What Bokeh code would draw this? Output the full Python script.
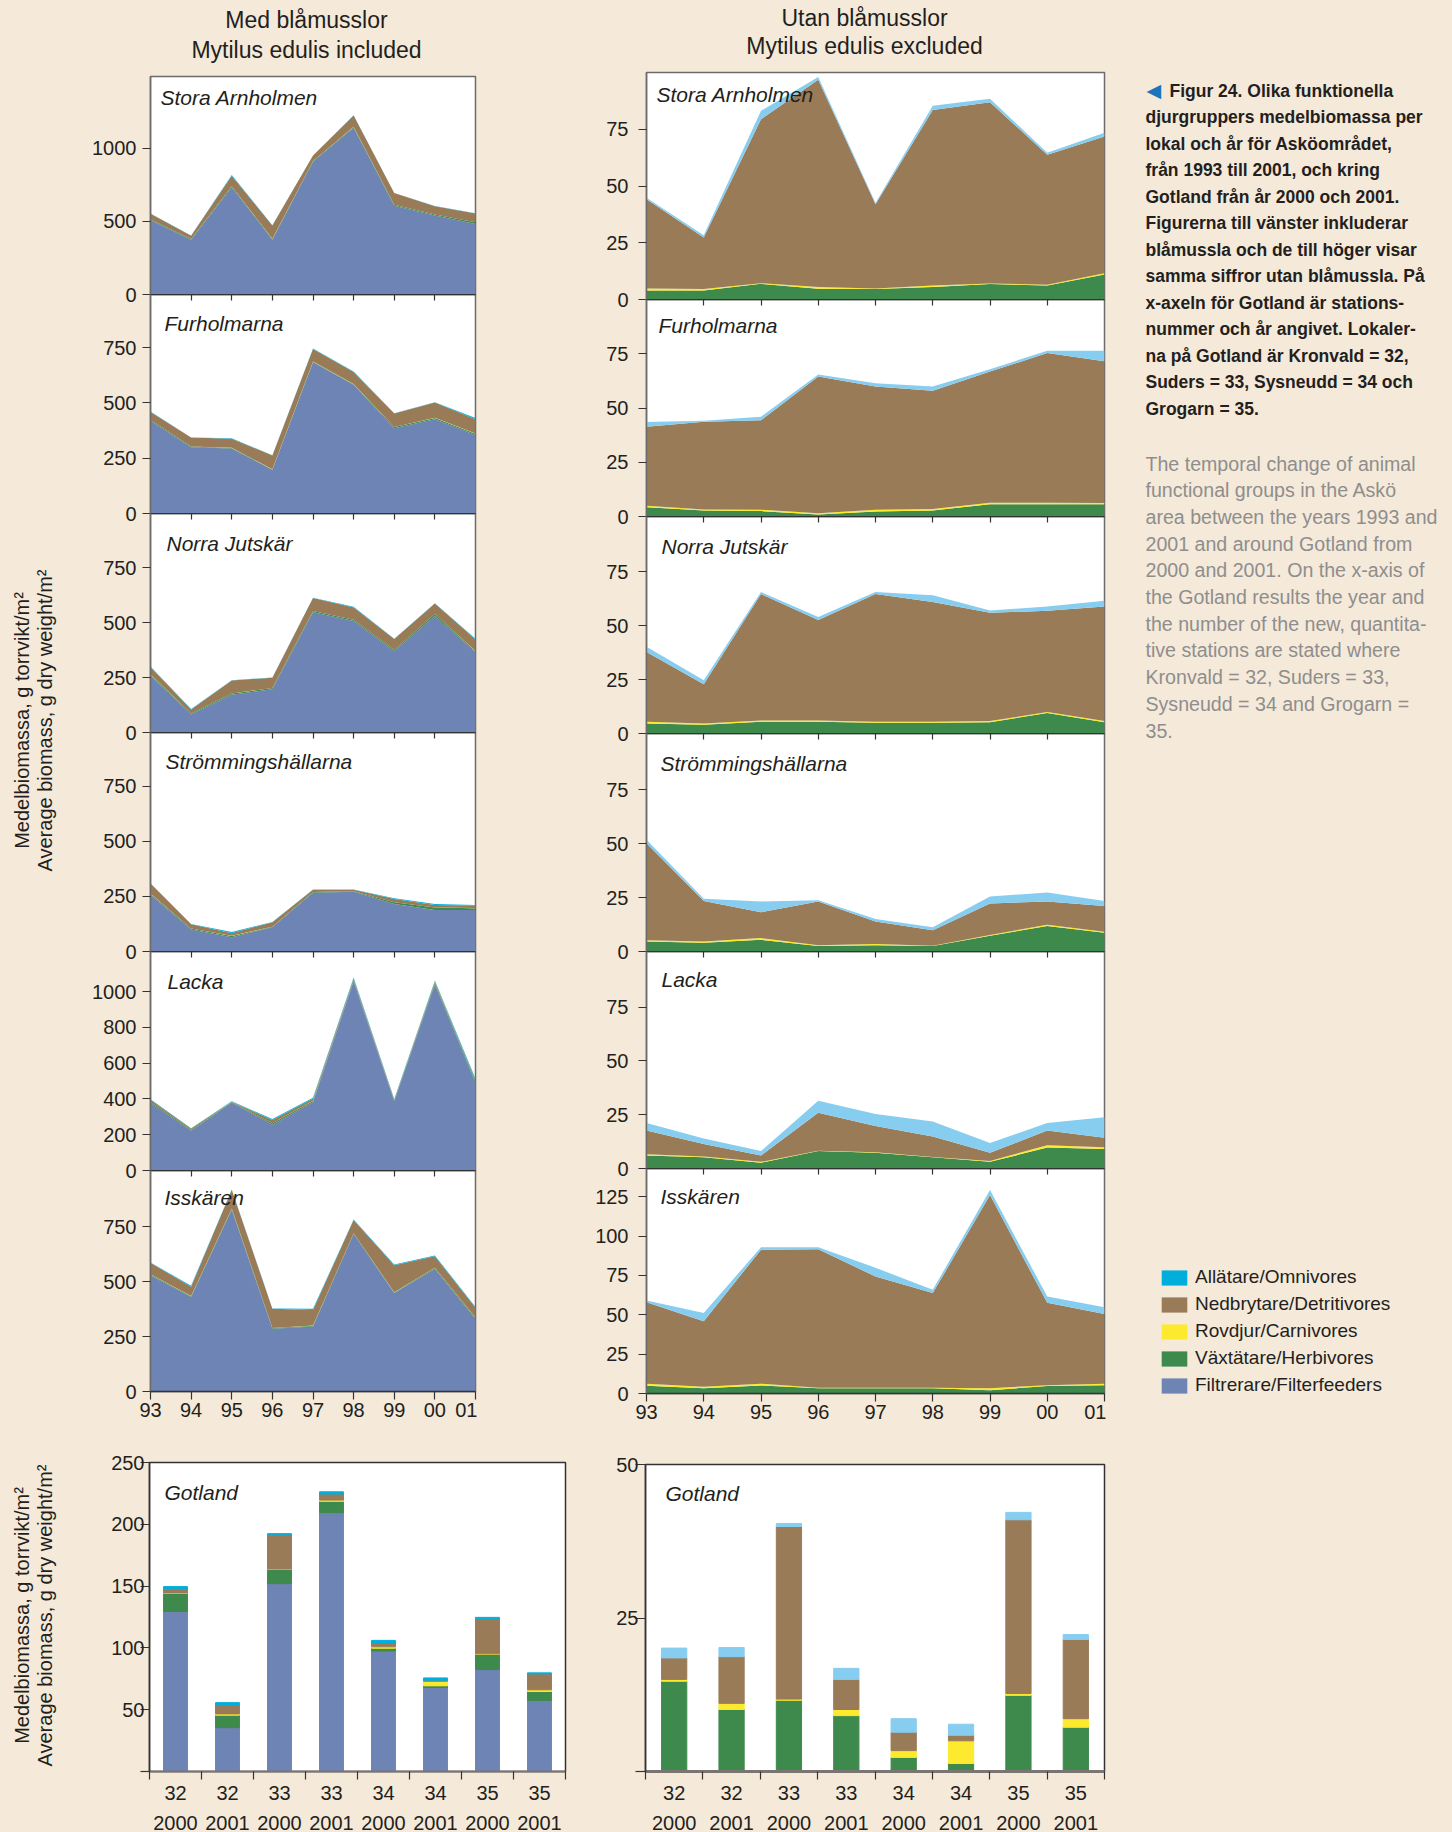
import math
from bokeh.plotting import figure
from bokeh.models import (Range1d, FixedTicker, LinearAxis, Label, Legend,
                          LegendItem, ColumnDataSource)
from bokeh.layouts import row, column
from bokeh.embed import file_html
from bokeh.resources import INLINE

# ----------------------------- data -----------------------------
years = [1993, 1994, 1995, 1996, 1997, 1998, 1999, 2000, 2001]
year_labels = ["93", "94", "95", "96", "97", "98", "99", "00", "01"]

group_keys = ["filt", "herb", "carn", "detr", "omni"]
group_names = {
    "omni": "Allätare/Omnivores",
    "detr": "Nedbrytare/Detritivores",
    "carn": "Rovdjur/Carnivores",
    "herb": "Växtätare/Herbivores",
    "filt": "Filtrerare/Filterfeeders",
}
legend_order = ["omni", "detr", "carn", "herb", "filt"]

stations = ["Stora Arnholmen", "Furholmarna", "Norra Jutskär",
            "Strömmingshällarna", "Lacka", "Isskären"]

stora_filt = [508, 375, 733, 375, 908, 1140, 606, 540, 482]
stora_herb = [4.0, 4.0, 6.9, 4.7, 4.6, 5.5, 6.8, 6.2, 11.0]
stora_carn = [0.8, 0.6, 0.3, 0.8, 0.3, 0.7, 0.3, 0.3, 0.6]
stora_detr = [39.4, 22.7, 72.2, 91.3, 37.1, 77.3, 79.8, 57.3, 60.2]
stora_omni = [0.6, 1.0, 3.7, 1.2, 0.5, 1.8, 1.5, 0.9, 1.7]

furh_filt = [418, 300, 294, 198, 684, 582, 385, 426, 355]
furh_herb = [4.3, 2.8, 2.5, 0.9, 2.3, 2.8, 5.6, 5.6, 5.6]
furh_carn = [0.6, 0.4, 0.6, 0.6, 0.8, 0.7, 0.7, 0.7, 0.6]
furh_detr = [36.5, 40.5, 41.3, 63.0, 56.8, 54.5, 60.5, 69.0, 65.3]
furh_omni = [2.1, 0.4, 1.6, 0.9, 1.5, 1.9, 1.1, 1.1, 4.9]

norra_filt = [260, 82, 172, 197, 548, 508, 370, 530, 365]
norra_herb = [4.6, 4.1, 5.4, 5.4, 5.0, 5.0, 5.2, 9.5, 5.2]
norra_carn = [0.8, 0.5, 0.6, 0.6, 0.4, 0.4, 0.6, 0.4, 0.6]
norra_detr = [32.3, 18.2, 58.6, 46.6, 59.2, 55.5, 50.1, 46.9, 53.0]
norra_omni = [2.5, 1.9, 0.9, 1.3, 0.9, 3.1, 1.1, 2.0, 2.7]

strom_filt = [258, 100, 65, 110, 267, 271, 216, 188, 188]
strom_herb = [4.6, 4.1, 5.4, 2.5, 2.9, 2.5, 7.3, 11.8, 8.7]
strom_carn = [0.6, 0.5, 0.8, 0.4, 0.6, 0.2, 0.4, 0.6, 0.4]
strom_detr = [44.9, 18.8, 12.0, 20.3, 10.4, 7.2, 14.5, 10.8, 12.0]
strom_omni = [1.7, 1.0, 5.0, 0.6, 1.2, 1.3, 3.3, 4.1, 2.3]

lacka_filt = [378, 223, 379, 256, 382, 1058, 388, 1041, 490]
lacka_herb = [6.0, 5.2, 2.7, 8.1, 7.3, 5.2, 3.1, 9.7, 9.1]
lacka_carn = [0.6, 0.4, 0.4, 0.2, 0.2, 0.2, 0.4, 1.1, 0.8]
lacka_detr = [11.0, 5.8, 2.9, 17.6, 12.2, 9.5, 3.8, 6.8, 4.4]
lacka_omni = [3.5, 2.5, 2.1, 5.6, 5.6, 6.9, 4.5, 3.5, 9.5]

iss_filt = [527, 430, 826, 285, 296, 716, 448, 557, 330]
iss_herb = [4.9, 3.4, 5.1, 3.4, 3.4, 3.4, 2.1, 4.7, 5.3]
iss_carn = [1.3, 0.9, 1.1, 0.2, 0.2, 0.2, 1.3, 0.6, 0.9]
iss_detr = [51.8, 41.6, 85.2, 88.0, 70.8, 60.2, 122.7, 52.3, 44.4]
iss_omni = [1.1, 5.3, 1.5, 1.3, 5.5, 2.1, 3.2, 4.0, 4.2]

station_series = {
    "Stora Arnholmen": dict(filt=stora_filt, herb=stora_herb, carn=stora_carn, detr=stora_detr, omni=stora_omni),
    "Furholmarna": dict(filt=furh_filt, herb=furh_herb, carn=furh_carn, detr=furh_detr, omni=furh_omni),
    "Norra Jutskär": dict(filt=norra_filt, herb=norra_herb, carn=norra_carn, detr=norra_detr, omni=norra_omni),
    "Strömmingshällarna": dict(filt=strom_filt, herb=strom_herb, carn=strom_carn, detr=strom_detr, omni=strom_omni),
    "Lacka": dict(filt=lacka_filt, herb=lacka_herb, carn=lacka_carn, detr=lacka_detr, omni=lacka_omni),
    "Isskären": dict(filt=iss_filt, herb=iss_herb, carn=iss_carn, detr=iss_detr, omni=iss_omni),
}

left_ymax = [1490, 990, 997, 995, 1225, 1005]
left_ticks = [[0, 500, 1000], [0, 250, 500, 750], [0, 250, 500, 750],
              [0, 250, 500, 750], [0, 200, 400, 600, 800, 1000], [0, 250, 500, 750]]
right_ymax = [100, 100, 100.5, 101, 100.8, 143]
right_ticks = [[0, 25, 50, 75]] * 5 + [[0, 25, 50, 75, 100, 125]]

got_station = ["32", "32", "33", "33", "34", "34", "35", "35"]
got_year = ["2000", "2001", "2000", "2001", "2000", "2001", "2000", "2001"]
got_filt = [129.5, 35.5, 152.0, 209.5, 97.5, 68.0, 82.5, 57.5]
got_herb = [14.7, 10.1, 11.6, 9.1, 2.3, 1.3, 12.4, 7.2]
got_carn = [0.3, 1.0, 0.2, 1.0, 1.1, 3.7, 0.3, 1.4]
got_detr = [3.5, 7.6, 28.1, 4.9, 3.0, 0.9, 28.3, 12.9]
got_omni = [1.6, 1.5, 0.5, 1.8, 2.2, 1.8, 1.2, 0.8]
got_series = dict(filt=got_filt, herb=got_herb, carn=got_carn, detr=got_detr, omni=got_omni)
left_bar_ticks = [50, 100, 150, 200, 250]
right_bar_ticks = [25, 50]

caption_sv = [
    "Figur 24. Olika funktionella",
    "djurgruppers medelbiomassa per",
    "lokal och år för Asköområdet,",
    "från 1993 till 2001, och kring",
    "Gotland från år 2000 och 2001.",
    "Figurerna till vänster inkluderar",
    "blåmussla och de till höger visar",
    "samma siffror utan blåmussla. På",
    "x-axeln för Gotland är stations-",
    "nummer och år angivet. Lokaler-",
    "na på Gotland är Kronvald = 32,",
    "Suders = 33, Sysneudd = 34 och",
    "Grogarn = 35.",
]
caption_en = [
    "The temporal change of animal",
    "functional groups in the Askö",
    "area between the years 1993 and",
    "2001 and around Gotland from",
    "2000 and 2001. On the x-axis of",
    "the Gotland results the year and",
    "the number of the new, quantita-",
    "tive stations are stated where",
    "Kronvald = 32, Suders = 33,",
    "Sysneudd = 34 and Grogarn =",
    "35.",
]

# ----------------------------- style -----------------------------
BG = "#F5E9D9"
COL = dict(filt="#6E84B5", herb="#3E8A4D", carn="#FDE92D", detr="#9A7B58", omni="#00AEDB")
OMNI_LIGHT = "#86CDF0"
TXT = "#231F20"
GRAY = "#8E8E8E"
FONT = "Liberation Sans"
AX = "#6B6B6B"
DARK = "#333333"
OV = 12


def base_fig(**kw):
    p = figure(tools="", toolbar_location=None, output_backend="svg", **kw)
    p.border_fill_alpha = 0
    p.background_fill_color = "white"
    p.outline_line_color = AX
    p.outline_line_width = 1.5
    p.grid.visible = False
    return p


def text_fig(width, height, left=0, right=0):
    # x data units = pixels from the frame's left edge, y data units = pixels from the top
    p = figure(width=width, height=height, x_range=Range1d(0, width - left - right),
               y_range=Range1d(height, 0),
               tools="", toolbar_location=None, output_backend="svg",
               x_axis_location=None, y_axis_location=None,
               min_border_left=left, min_border_right=right, min_border_top=0, min_border_bottom=0)
    p.outline_line_color = None
    p.background_fill_alpha = 0
    p.border_fill_alpha = 0
    p.grid.visible = False
    return p


def style_yaxis(ax, ticks, tick_out, standoff, minor=None):
    ax.ticker = FixedTicker(ticks=ticks, minor_ticks=minor or [])
    ax.major_tick_out = tick_out
    ax.major_tick_in = 0
    ax.minor_tick_out = tick_out
    ax.minor_tick_in = 0
    ax.minor_tick_line_color = DARK if minor else None
    ax.minor_tick_line_width = 1.2
    ax.major_tick_line_color = DARK
    ax.major_tick_line_width = 1.2
    ax.axis_line_color = AX
    ax.axis_line_width = 1.5
    ax.major_label_text_font = FONT
    ax.major_label_text_font_size = "20px"
    ax.major_label_text_color = TXT
    ax.major_label_standoff = standoff


def area_panel(name, ymax, ticks, width, mbl, mbr, frame_h, top, bottom,
               first, last, with_filt, omni_color, lab_dx, lab_dy, standoff):
    p = base_fig(width=width, height=frame_h + top + bottom,
                 x_range=Range1d(years[0], years[-1]), y_range=Range1d(0, ymax),
                 x_axis_location=None,
                 min_border_left=mbl, min_border_right=mbr,
                 min_border_top=top, min_border_bottom=bottom)
    series = station_series[name]
    keys = group_keys if with_filt else group_keys[1:]
    colors = [omni_color if k == "omni" else COL[k] for k in keys]
    src = ColumnDataSource(dict(year=years, **{k: series[k] for k in keys}))
    p.varea_stack(keys, x="year", color=colors, source=src)

    style_yaxis(p.yaxis[0], ticks, 8, standoff)

    if not first:
        # tick marks hanging from the panel above (no labels)
        top_ax = LinearAxis(ticker=FixedTicker(ticks=[], minor_ticks=years[1:-1]),
                            major_tick_line_color=None,
                            minor_tick_in=6, minor_tick_out=0,
                            minor_tick_line_color=DARK, minor_tick_line_width=1.2,
                            axis_line_color=DARK, axis_line_width=1.5)
        p.add_layout(top_ax, "above")
    if last:
        bot = LinearAxis(ticker=FixedTicker(ticks=years),
                         major_label_overrides=dict(zip(years, year_labels)),
                         major_tick_out=8, major_tick_in=0,
                         major_tick_line_color=DARK, major_tick_line_width=1.2,
                         minor_tick_line_color=None,
                         axis_line_color=DARK, axis_line_width=1.5,
                         major_label_text_font=FONT, major_label_text_font_size="20px",
                         major_label_text_color=TXT, major_label_standoff=3)
        p.add_layout(bot, "below")
    else:
        p.margin = (0, 0, -OV, 0)

    p.add_layout(Label(x=years[0], y=ymax, x_offset=lab_dx, y_offset=-lab_dy, text=name,
                       text_font=FONT, text_font_style="italic", text_font_size="21px",
                       text_color=TXT, text_baseline="middle", text_align="left"))
    return p


def bar_panel(width, mbl, mbr, top, frame_h, bottom, ymax, ticks, with_filt, omni_color,
              bar_w, tick_out, standoff, lab_dx, lab_dy, axis_w):
    xs = list(range(1, len(got_station) + 1))
    p = base_fig(width=width, height=top + frame_h + bottom,
                 x_range=Range1d(0.5, len(xs) + 0.5), y_range=Range1d(0, ymax),
                 min_border_left=mbl, min_border_right=mbr,
                 min_border_top=top, min_border_bottom=bottom)
    p.outline_line_color = DARK
    keys = group_keys if with_filt else group_keys[1:]
    colors = [omni_color if k == "omni" else COL[k] for k in keys]
    src = ColumnDataSource(dict(x=xs, **{k: got_series[k] for k in keys}))
    p.vbar_stack(keys, x="x", width=bar_w, color=colors, source=src)

    # station numbers, with tick marks between the bars
    xa = p.xaxis[0]
    xa.ticker = FixedTicker(ticks=xs, minor_ticks=[x - 0.5 for x in xs] + [xs[-1] + 0.5])
    xa.major_label_overrides = dict(zip(xs, got_station))
    xa.major_tick_out = 0
    xa.major_tick_in = 0
    xa.minor_tick_out = 8
    xa.minor_tick_in = 0
    xa.minor_tick_line_color = DARK
    xa.minor_tick_line_width = 1.2
    xa.axis_line_color = "#7A7572"
    xa.axis_line_width = axis_w
    xa.major_label_text_font = FONT
    xa.major_label_text_font_size = "20px"
    xa.major_label_text_color = TXT
    xa.major_label_standoff = 6
    xa.major_label_text_line_height = 1.0
    # years, second row
    ya2 = LinearAxis(ticker=FixedTicker(ticks=xs),
                     major_label_overrides=dict(zip(xs, got_year)),
                     major_tick_line_color=None, minor_tick_line_color=None,
                     axis_line_color=None,
                     major_label_text_font=FONT, major_label_text_font_size="20px",
                     major_label_text_color=TXT, major_label_standoff=7,
                     major_label_text_line_height=1.0)
    p.add_layout(ya2, "below")

    style_yaxis(p.yaxis[0], ticks, tick_out, standoff, minor=[0])
    p.yaxis[0].axis_line_color = DARK

    p.add_layout(Label(x=0.5, y=ymax, x_offset=lab_dx, y_offset=-lab_dy, text="Gotland",
                       text_font=FONT, text_font_style="italic", text_font_size="21px",
                       text_color=TXT, text_baseline="middle", text_align="left"))
    return p


# ----------------------------- left column -----------------------------
L_W, L_MBL, L_MBR = 409, 82, 2
L_FRAMES = [218, 219, 219, 219, 219, 221]
L_LAB = [(10, 21), (14, 29), (16, 30), (15, 29), (17, 30), (14, 27)]
left_title = text_fig(L_W, 74, L_MBL, L_MBR)
for txt, yc in [("Med blåmusslor", 19.0), ("Mytilus edulis included", 49.5)]:
    left_title.add_layout(Label(x=156, y=yc, text=txt, text_font=FONT, text_font_size="23px",
                                text_color=TXT, text_align="center", text_baseline="middle"))
left_panels = []
for i, name in enumerate(stations):
    first, last = i == 0, i == len(stations) - 1
    top = 2 if first else 0
    bottom = 40 if last else OV
    left_panels.append(area_panel(name, left_ymax[i], left_ticks[i], L_W, L_MBL, L_MBR,
                                  L_FRAMES[i], top, bottom, first, last, True, COL["omni"],
                                  L_LAB[i][0], L_LAB[i][1], 6))

# ----------------------------- right column -----------------------------
R_W, R_MBL, R_MBR = 629, 169, 2
R_FRAMES = [227, 217, 217, 218, 217, 225]
R_LAB = [(10, 22), (12, 26), (15, 30), (14, 30), (15, 28), (14, 28)]
right_title = text_fig(R_W, 70, R_MBL, R_MBR)
for txt, yc in [("Utan blåmusslor", 17.0), ("Mytilus edulis excluded", 45.5)]:
    right_title.add_layout(Label(x=218, y=yc, text=txt, text_font=FONT, text_font_size="23px",
                                 text_color=TXT, text_align="center", text_baseline="middle"))
right_panels = []
for i, name in enumerate(stations):
    first, last = i == 0, i == len(stations) - 1
    top = 2 if first else 0
    bottom = 38 if last else OV
    right_panels.append(area_panel(name, right_ymax[i], right_ticks[i], R_W, R_MBL, R_MBR,
                                   R_FRAMES[i], top, bottom, first, last, False, OMNI_LIGHT,
                                   R_LAB[i][0], R_LAB[i][1], 10))

# ----------------------------- caption + legend -----------------------------
CAP_W, CAP_H = 346, 1431
cap = text_fig(CAP_W, CAP_H)
cap.add_layout(Label(x=40, y=89, text="◀", text_font="DejaVu Sans", text_font_size="19px",
                     text_color="#1B75BB", text_baseline="middle", text_align="left"))
for i, line in enumerate(caption_sv):
    x = 63 if i == 0 else 39
    cap.add_layout(Label(x=x, y=90 + i * 26.53, text=line, text_font=FONT,
                         text_font_style="bold", text_font_size="17.5px", text_color=TXT,
                         text_baseline="middle", text_align="left"))
for i, line in enumerate(caption_en):
    cap.add_layout(Label(x=39, y=463.3 + i * 26.67, text=line, text_font=FONT,
                         text_font_size="19.6px", text_color=GRAY,
                         text_baseline="middle", text_align="left"))
nan = float("nan")
items = []
for k in legend_order:
    r = cap.quad(left=[nan], right=[nan], top=[nan], bottom=[nan],
                 fill_color=COL[k], line_color=None)
    items.append(LegendItem(label=group_names[k], renderers=[r]))
legend = Legend(items=items, location=(52, 35), glyph_width=32, glyph_height=19,
                label_standoff=5, label_height=22, spacing=5, padding=0, margin=0,
                label_text_font=FONT, label_text_font_size="19px", label_text_color=TXT,
                border_line_color=None, background_fill_alpha=0)
cap.add_layout(legend)

# ----------------------------- Gotland bars -----------------------------
left_bar = bar_panel(537, 81, 40, 31, 313, 57, 250, left_bar_ticks, True,
                     COL["omni"], 0.46, 9, -4, 15, 30, 2)
right_bar = bar_panel(501, 40, 2, 33, 307, 61, 50, right_bar_ticks, False,
                      OMNI_LIGHT, 0.44, 10, -3, 20, 29, 3)

# ----------------------------- y titles -----------------------------
ytitle = text_fig(68, 1832)
for yc in (720, 1615):
    ytitle.add_layout(Label(x=21, y=yc, text="Medelbiomassa, g torrvikt/m²", angle=math.pi / 2,
                            text_font=FONT, text_font_size="20px", text_color=TXT,
                            text_align="center", text_baseline="middle"))
    ytitle.add_layout(Label(x=44, y=yc, text="Average biomass, g dry weight/m²", angle=math.pi / 2,
                            text_font=FONT, text_font_size="20px", text_color=TXT,
                            text_align="center", text_baseline="middle"))

left_col = column(left_title, *left_panels)
right_col = column(right_title, *right_panels)
top_row = row(left_col, right_col, cap)
bottom_row = row(column(left_bar), column(right_bar))
layout = row(ytitle, column(top_row, bottom_row))

html = file_html(layout, INLINE, title="Figur 24")
html = html.replace("</head>",
                    "<style>html, body { background: %s; overflow: hidden; }</style></head>" % BG, 1)
with open("out.html", "w", encoding="utf-8") as f:
    f.write(html)
